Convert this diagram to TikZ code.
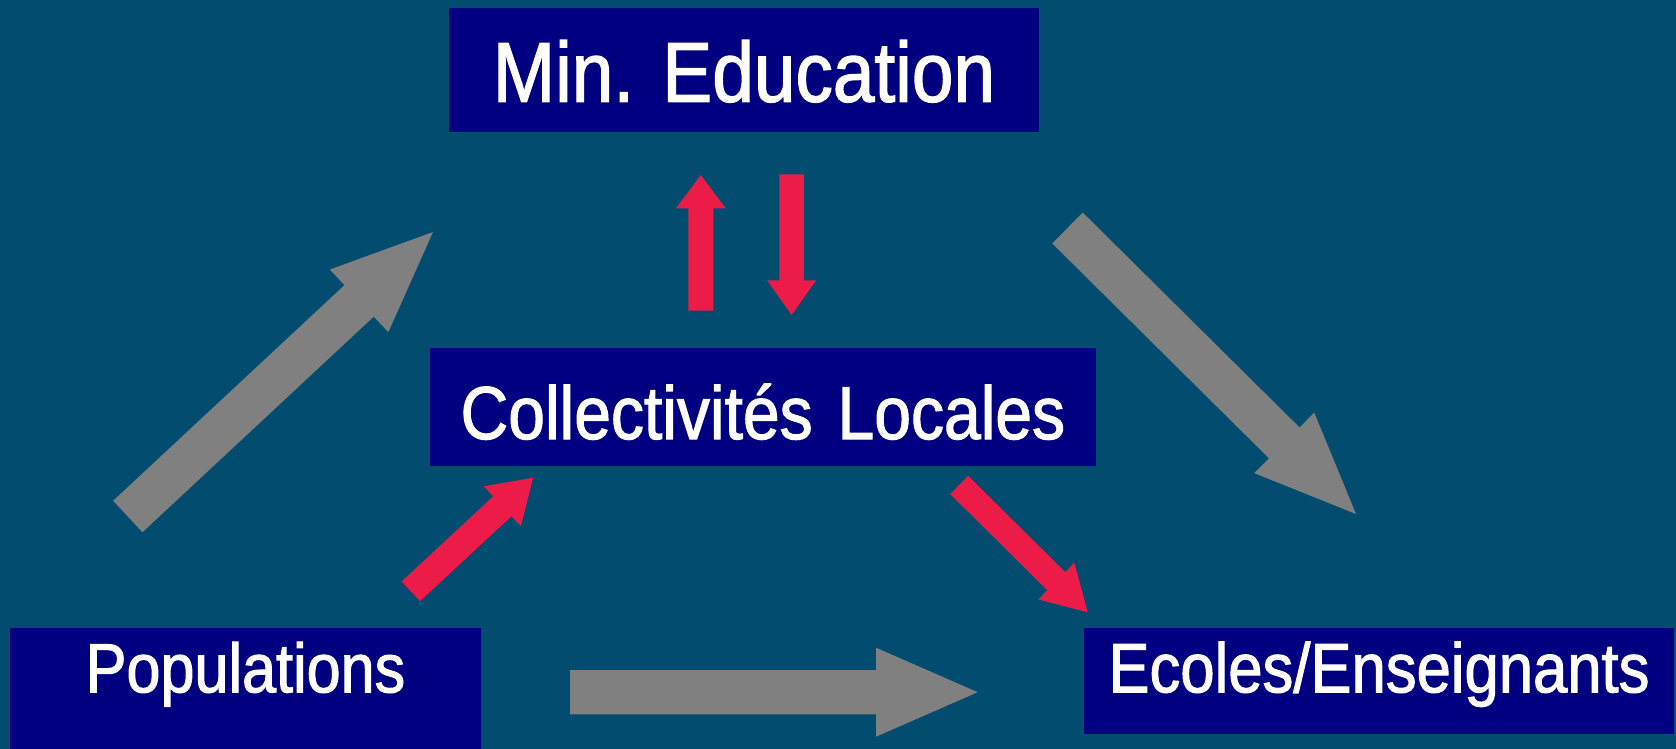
\documentclass[tikz,border=0pt]{standalone}
\usepackage{fontspec}
\usetikzlibrary{calc}
\newfontfamily\boxfont[FakeStretch=0.88,FakeBold=1.5]{Liberation Sans}
\definecolor{bgblue}{RGB}{2,76,111}
\definecolor{boxnavy}{RGB}{0,0,128}
\definecolor{arrred}{RGB}{237,27,72}
\definecolor{arrgray}{RGB}{128,128,128}
% #1 style, #2 start coordinate, #3 tip coordinate, #4 shaft half width, #5 head half width, #6 head length
\newcommand\blockarr[6]{%
  \path ($(#3)!#6!(#2)$) coordinate (#2-h);
  \fill[#1] ($(#2)!#4!90:(#3)$) -- ($(#2-h)!#4!-90:(#2)$) -- ($(#2-h)!#5!-90:(#2)$)
    -- (#3) -- ($(#2-h)!#5!90:(#2)$) -- ($(#2-h)!#4!90:(#2)$) -- ($(#2)!#4!-90:(#3)$) -- cycle;}
\begin{document}
\begin{tikzpicture}[x=1pt,y=-1pt,
  box/.style={fill=boxnavy,text=white,inner sep=0pt,align=center,anchor=base},
  grayarr/.style={fill=arrgray},
  redarr/.style={fill=arrred}]
\useasboundingbox (0,0) rectangle (1676,749);
\fill[bgblue] (0,0) rectangle (1676,749);
% boxes
\node[box,text width=590pt,text height=94pt,text depth=30pt,
  font=\boxfont\fontsize{85}{90}\selectfont] (min) at (744,101.7) {Min.\ Education};
\node[box,text width=665.7pt,text height=91pt,text depth=27pt,
  font=\boxfont\fontsize{75}{80}\selectfont] (coll) at (762.9,439) {Collectivités Locales};
\node[box,text width=471pt,text height=64.3pt,text depth=57pt,
  font=\boxfont\fontsize{69.5}{75}\selectfont] (pop) at (245.5,692.3) {Populations};
\node[box,text width=590pt,text height=64.6pt,text depth=41.7pt,
  font=\boxfont\fontsize{70}{75}\selectfont] (ecol) at (1379,692.3) {Ecoles/Enseignants};
% arrow end points
\coordinate (g1s) at (127.8,516.5);  \coordinate (g1e) at (433,232);
\coordinate (g2s) at (1067.5,228);   \coordinate (g2e) at (1356,514);
\coordinate (g3s) at (570,692.2);    \coordinate (g3e) at (977.7,692.2);
\coordinate (r1s) at (700.8,310.7);  \coordinate (r1e) at (700.8,175);
\coordinate (r2s) at (791.6,174.3);  \coordinate (r2e) at (791.6,315);
\coordinate (r3s) at (410.8,591.3);  \coordinate (r3e) at (533.1,477.7);
\coordinate (r4s) at (959.2,485);    \coordinate (r4e) at (1087.7,612.3);
% gray arrows
\blockarr{grayarr}{g1s}{g1e}{21.5pt}{42.8pt}{101pt}
\blockarr{grayarr}{g2s}{g2e}{21.7pt}{42.6pt}{101pt}
\blockarr{grayarr}{g3s}{g3e}{22.2pt}{44.5pt}{101.7pt}
% red arrows
\blockarr{redarr}{r1s}{r1e}{12.5pt}{24.9pt}{33.3pt}
\blockarr{redarr}{r2s}{r2e}{12.2pt}{24.5pt}{34.7pt}
\blockarr{redarr}{r3s}{r3e}{13.5pt}{27.3pt}{42pt}
\blockarr{redarr}{r4s}{r4e}{12.8pt}{25.7pt}{44.3pt}
\end{tikzpicture}
\end{document}
